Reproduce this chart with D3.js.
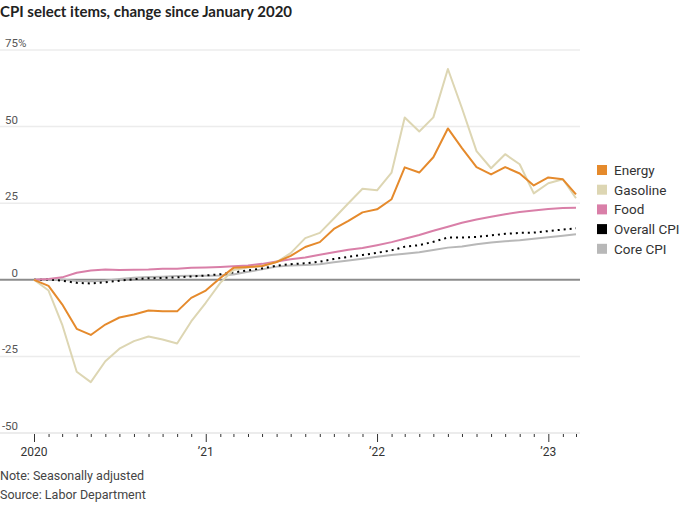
<!DOCTYPE html>
<html>
<head>
<meta charset="utf-8">
<script src="https://cdn.jsdelivr.net/npm/d3@7"></script>
<style>
  body { margin: 0; background: #fff; }
  svg text { font-family: "Liberation Sans Narrow", "Roboto", sans-serif; }
</style>
</head>
<body>
<div id="chart"></div>
<script>
// monthly, Jan 2020 .. Mar 2023
const startMonth = new Date(2020, 0, 1);
const energy = [0, -2, -8, -16, -18, -14.6, -12.3, -11.3, -10, -10.3, -10.3, -5.9,
  -3.5, 0.6, 3.9, 4.2, 4.5, 5.8, 7.8, 10.7, 12.3, 16.6, 19.2, 22,
  23, 26.3, 36.7, 35, 40, 49.4, 43, 36.8, 34.4, 36.8, 34.7, 30.8,
  33.4, 32.8, 27.9];
const gasoline = [0, -3.5, -14.6, -30, -33.4, -26.6, -22.5, -20, -18.5, -19.5, -20.8, -13.6,
  -7.5, -1, 3.2, 4, 4.5, 5.8, 8.7, 13.6, 15.3, 20, 25, 29.7,
  29.2, 35, 53, 48.4, 53, 68.8, 56, 42, 36.4, 41, 37.7, 28.2,
  31.5, 32.8, 26.6];
const food = [0, 0.3, 0.8, 2.3, 3, 3.4, 3.2, 3.3, 3.4, 3.6, 3.6, 3.9,
  4.0, 4.2, 4.4, 4.7, 5.2, 6, 6.7, 7.3, 8.2, 9.0, 9.8, 10.4,
  11.3, 12.3, 13.4, 14.6, 16, 17.3, 18.6, 19.7, 20.6, 21.4, 22.1, 22.6,
  23.1, 23.4, 23.5];
const overall = [0, 0.1, -0.3, -1.0, -1.2, -0.8, -0.3, 0.2, 0.5, 0.6, 0.8, 1.1,
  1.4, 1.8, 2.4, 3.1, 3.7, 4.6, 5.1, 5.4, 5.9, 6.8, 7.5, 8.1,
  8.8, 9.6, 10.8, 11.3, 12.4, 13.8, 13.8, 14.0, 14.5, 15.0, 15.3, 15.4,
  15.9, 16.4, 16.8];
const core = [0, 0.2, 0.1, -0.4, -0.5, -0.3, 0.3, 0.7, 0.9, 1.0, 1.2, 1.3,
  1.3, 1.4, 1.7, 2.6, 3.4, 4.3, 4.7, 4.8, 5.1, 5.7, 6.3, 6.9,
  7.5, 8.1, 8.5, 9.0, 9.7, 10.5, 10.9, 11.6, 12.2, 12.6, 12.9, 13.4,
  13.9, 14.4, 14.9];

const seriesNames = ["Energy", "Gasoline", "Food", "Overall CPI", "Core CPI"];
const seriesColors = ["#e58a2c", "#ddd6b3", "#d97fa8", "#000000", "#b8b8b8"];
const yTicks = [-50, -25, 0, 25, 50, 75];
const xTickLabels = ["2020", "\u201921", "\u201922", "\u201923"];
const noteLines = ["Note: Seasonally adjusted", "Source: Labor Department"];

const width = 690, height = 505;
const svg = d3.select("#chart").append("svg")
  .attr("width", width).attr("height", height);

const months = energy.map((_, i) => d3.timeMonth.offset(startMonth, i));
const x = d3.scaleTime()
  .domain([startMonth, new Date(2023, 2, 1)])
  .range([34, 576]);
const y = d3.scaleLinear().domain([-50, 75]).range([433, 50]);
const gridRight = 580;

svg.append("text")
  .attr("x", 0).attr("y", 17)
  .style("font-family", "Lato, sans-serif")
  .style("font-weight", "bold")
  .style("font-size", "15px")
  .attr("fill", "#222")
  .text("CPI select items, change since January 2020");

// gridlines
svg.append("g").selectAll("line")
  .data(yTicks.filter(d => d !== 0 && d !== -50))
  .join("line")
  .attr("x1", 0).attr("x2", gridRight)
  .attr("y1", d => y(d)).attr("y2", d => y(d))
  .attr("stroke", "#ececec").attr("stroke-width", 1.5);

// y labels
const yl = svg.append("g");
yl.selectAll("text")
  .data(yTicks)
  .join("text")
  .attr("x", 18).attr("y", d => y(d) - 3)
  .attr("text-anchor", "end")
  .attr("fill", "#555")
  .style("font-size", "11.5px")
  .text(d => d);
yl.append("text")
  .attr("x", 18).attr("y", y(75) - 3)
  .attr("fill", "#555")
  .style("font-size", "11.5px")
  .text("%");

// x axis
const xAxis = d3.axisBottom(x)
  .ticks(d3.timeMonth.every(1))
  .tickSize(4)
  .tickFormat("");
const xg = svg.append("g").attr("transform", `translate(0,${y(-50)})`).call(xAxis);
xg.select(".domain").remove();
xg.selectAll(".tick line").attr("stroke", "#333")
  .attr("y1", 1)
  .attr("y2", d => d.getMonth() === 0 ? 9 : 4);
svg.append("line")
  .attr("x1", 0).attr("x2", gridRight)
  .attr("y1", y(-50)).attr("y2", y(-50))
  .attr("stroke", "#e6e6e6").attr("stroke-width", 1.5);

const yearTicks = [2020, 2021, 2022, 2023].map(yr => new Date(yr, 0, 1));
svg.append("g").selectAll("text")
  .data(yearTicks)
  .join("text")
  .attr("x", d => x(d)).attr("y", 456)
  .attr("text-anchor", "middle")
  .attr("fill", "#333")
  .style("font-size", "12px")
  .text((d, i) => xTickLabels[i]);

// zero line
svg.append("line")
  .attr("x1", 0).attr("x2", gridRight)
  .attr("y1", y(0)).attr("y2", y(0))
  .attr("stroke", "#8c8c8c").attr("stroke-width", 2);

// lines, drawn back to front
const line = d3.line().x((d, i) => x(months[i])).y(d => y(d));
const drawOrder = [
  { data: core, color: seriesColors[4], dash: null },
  { data: overall, color: seriesColors[3], dash: "2,4" },
  { data: food, color: seriesColors[2], dash: null },
  { data: gasoline, color: seriesColors[1], dash: null },
  { data: energy, color: seriesColors[0], dash: null }
];
svg.append("g").selectAll("path")
  .data(drawOrder)
  .join("path")
  .attr("d", d => line(d.data))
  .attr("fill", "none")
  .attr("stroke", d => d.color)
  .attr("stroke-width", 2)
  .attr("stroke-linejoin", "round")
  .attr("stroke-dasharray", d => d.dash);

// legend
const lg = svg.append("g").attr("transform", "translate(597,165)");
const items = lg.selectAll("g")
  .data(seriesNames)
  .join("g")
  .attr("transform", (d, i) => `translate(0,${i * 19.7})`);
items.append("rect")
  .attr("width", 10).attr("height", 10)
  .attr("fill", (d, i) => seriesColors[i]);
items.append("text")
  .attr("x", 17).attr("y", 10)
  .attr("fill", "#333")
  .style("font-size", "13.5px")
  .text(d => d);

// notes
svg.append("g").selectAll("text")
  .data(noteLines)
  .join("text")
  .attr("x", 0).attr("y", (d, i) => 480 + i * 19)
  .attr("fill", "#444")
  .style("font-size", "12.5px")
  .text(d => d);
</script>
</body>
</html>
